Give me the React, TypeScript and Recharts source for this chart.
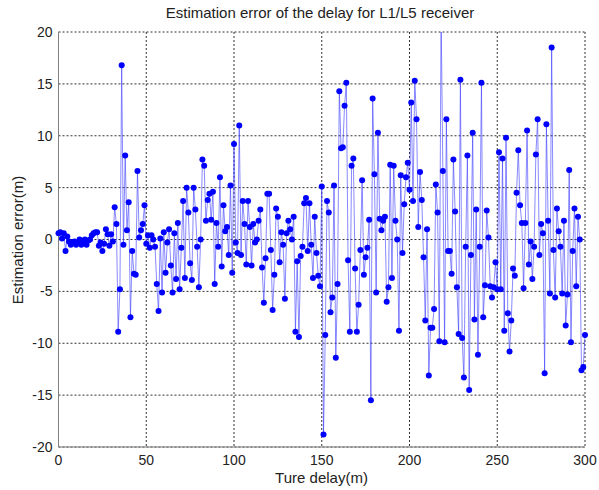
import React from 'react';
import { LineChart, Line, XAxis, YAxis, CartesianGrid } from 'recharts';

// Estimation error (m) for each true delay 0..300 m (step 1 m)
const err000 = [0.6, 0.7, 0.1, 0.6, -1.1, 0.3, -0.2, -0.5, -0.3, -0.2,
  -0.5, -0.3, 0.0, -0.5, -0.2, 0.0, -0.5, -0.1, 0.0, 0.4,
  0.6, 0.7, 0.7, -0.6, -0.3, -1.1, -0.4, 1.0, 0.5, -0.6,
  0.5, -0.2, 3.1, 1.5, -8.9, -4.8, 16.8, -0.5, 8.1, 0.9,
  3.6, -7.5, -1.1, -3.3, -3.4, 6.6, 0.2, 0.9, 1.5, 3.3];
const err050 = [-0.4, 0.4, -0.8, 0.4, 0.0, -0.7, -4.3, -6.9, 0.1, -5.1,
  0.7, -3.2, -0.3, 1.0, -2.5, -5.1, 0.6, -3.8, 1.6, -4.8,
  -0.8, 3.7, -3.7, 5.0, 2.6, -2.3, -3.9, 5.0, 2.9, -0.7,
  -4.6, 0.0, 7.7, 7.1, 1.8, 3.8, 4.4, 1.9, 4.6, -4.3,
  1.6, -0.7, 6.0, -2.6, 3.3, 0.8, 1.2, -1.5, 5.2, -3.2];
const err100 = [9.2, -0.3, -1.3, 11.0, -1.5, 3.7, 1.5, -2.4, 3.7, 1.2,
  -2.5, 1.5, -0.3, 0.0, 1.8, 2.9, -2.7, -6.1, -1.8, 4.4,
  4.4, -1.0, -6.8, -3.4, 3.0, 2.2, -2.2, 0.7, -0.5, -5.7,
  0.6, 1.8, 1.0, 0.0, 2.2, -8.9, -2.1, -9.4, -1.6, -0.7,
  3.5, 4.0, -1.1, 3.5, -0.5, -3.7, 2.2, -1.3, -3.5, -4.5];
const err150 = [5.1, -18.8, -9.2, 3.7, 2.6, -7.0, -5.6, 5.2, -11.4, -4.3,
  14.3, 8.8, 8.9, 12.9, 15.1, -2.0, -8.9, 7.1, 7.8, -2.8,
  -8.9, -6.3, -1.0, 5.7, -3.4, -1.7, -0.8, 1.9, -15.5, 13.6,
  6.3, -5.1, 10.3, 2.0, 0.9, 1.8, 2.2, -6.0, -4.6, 7.2,
  -3.7, 7.1, 1.8, 0.0, -8.8, 6.2, -1.3, 3.4, 6.0, 7.4];
const err200 = [4.8, 13.2, 3.7, 15.3, 11.6, 1.2, 6.5, 3.8, -1.7, -7.8,
  1.0, -13.1, -8.5, -8.5, -6.7, 5.3, 2.6, -9.8, 22, 6.6,
  -9.9, 11.6, -1.1, -1.1, -3.3, 7.7, 2.7, -4.6, -9.1, 15.4,
  -9.5, -13.3, -0.7, 8.1, -14.5, -1.5, 10.3, -7.7, 2.9, -11.1,
  -0.7, 15.1, -7.5, -4.4, 2.8, 0.2, -4.5, -5.6, -4.6, -2.2];
const err250 = [-4.8, 8.4, -4.8, 7.8, -8.8, 9.8, -7.1, -10.8, -7.8, -2.8,
  -3.5, 4.5, 8.6, 3.3, 1.6, -4.7, 1.6, 10.5, -2.4, -0.2,
  -3.8, -0.7, 8.2, 11.6, -1.5, 1.5, 0.6, -12.9, 11.1, 1.8,
  -5.2, 18.5, -1.0, -5.6, 3.0, 0.8, -0.7, -5.2, 1.8, -8.3,
  -5.3, 6.7, -9.9, -1.1, 3.0, -4.5, 2.2, 0.0, -12.6, -12.3, -9.2];

const errors = [...err000, ...err050, ...err100, ...err150, ...err200, ...err250];
const data = errors.map((e, i) => ({ delay: i, error: e }));

const xTicks = [0, 50, 100, 150, 200, 250, 300];
const yTicks = [-20, -15, -10, -5, 0, 5, 10, 15, 20];

const FONT = '"Liberation Sans", Arial, Helvetica, sans-serif';

export default function App() {
  return (
    <div style={{ position: 'absolute', left: 0, top: 0, width: 599, height: 490, background: '#fff', fontFamily: FONT, color: '#222' }}>
      <div style={{ position: 'absolute', left: 0, top: 4, width: 640, textAlign: 'center', fontSize: 15, lineHeight: '18px', whiteSpace: 'nowrap' }}>
        Estimation error of the delay for L1/L5 receiver
      </div>
      <div style={{ position: 'absolute', left: 18, top: 240, width: 0, height: 0 }}>
        <div style={{ position: 'absolute', left: -150, top: -9, width: 300, textAlign: 'center', fontSize: 15, lineHeight: '18px', transform: 'rotate(-90deg)', whiteSpace: 'nowrap' }}>
          Estimation error(m)
        </div>
      </div>
      <div style={{ position: 'absolute', left: 58, top: 469, width: 527, textAlign: 'center', fontSize: 15, lineHeight: '18px', whiteSpace: 'nowrap' }}>
        Ture delay(m)
      </div>
      <LineChart width={599} height={490} data={data} margin={{ top: 32, right: 14, bottom: 13, left: 0 }}>
        <CartesianGrid stroke="#333" strokeDasharray="2 2" ticks={undefined} />
        <XAxis dataKey="delay" type="number" domain={[0, 300]} ticks={xTicks} interval={0}
          tick={{ fill: '#222', fontSize: 14 }} tickLine={false} tickSize={6}
          axisLine={{ stroke: '#808080' }} height={30} />
        <XAxis xAxisId="top" orientation="top" dataKey="delay" type="number" domain={[0, 300]} ticks={xTicks}
          tick={false} tickLine={false} axisLine={{ stroke: '#808080' }} height={0} />
        <YAxis type="number" domain={[-20, 20]} ticks={yTicks} interval={0} allowDataOverflow
          tick={{ fill: '#222', fontSize: 14 }} tickLine={false} tickSize={4} tickMargin={2}
          axisLine={{ stroke: '#808080' }} width={58.5} />
        <YAxis yAxisId="right" orientation="right" type="number" domain={[-20, 20]} ticks={yTicks}
          tick={false} tickLine={false} axisLine={{ stroke: '#808080' }} width={0} />
        <Line type="linear" dataKey="error" stroke="#3a3aff" strokeOpacity={0.6} strokeWidth={1}
          dot={{ r: 3, fill: '#0000ff', stroke: '#0000ff', strokeWidth: 0, fillOpacity: 1 }}
          activeDot={false} isAnimationActive={false} />
      </LineChart>
    </div>
  );
}
